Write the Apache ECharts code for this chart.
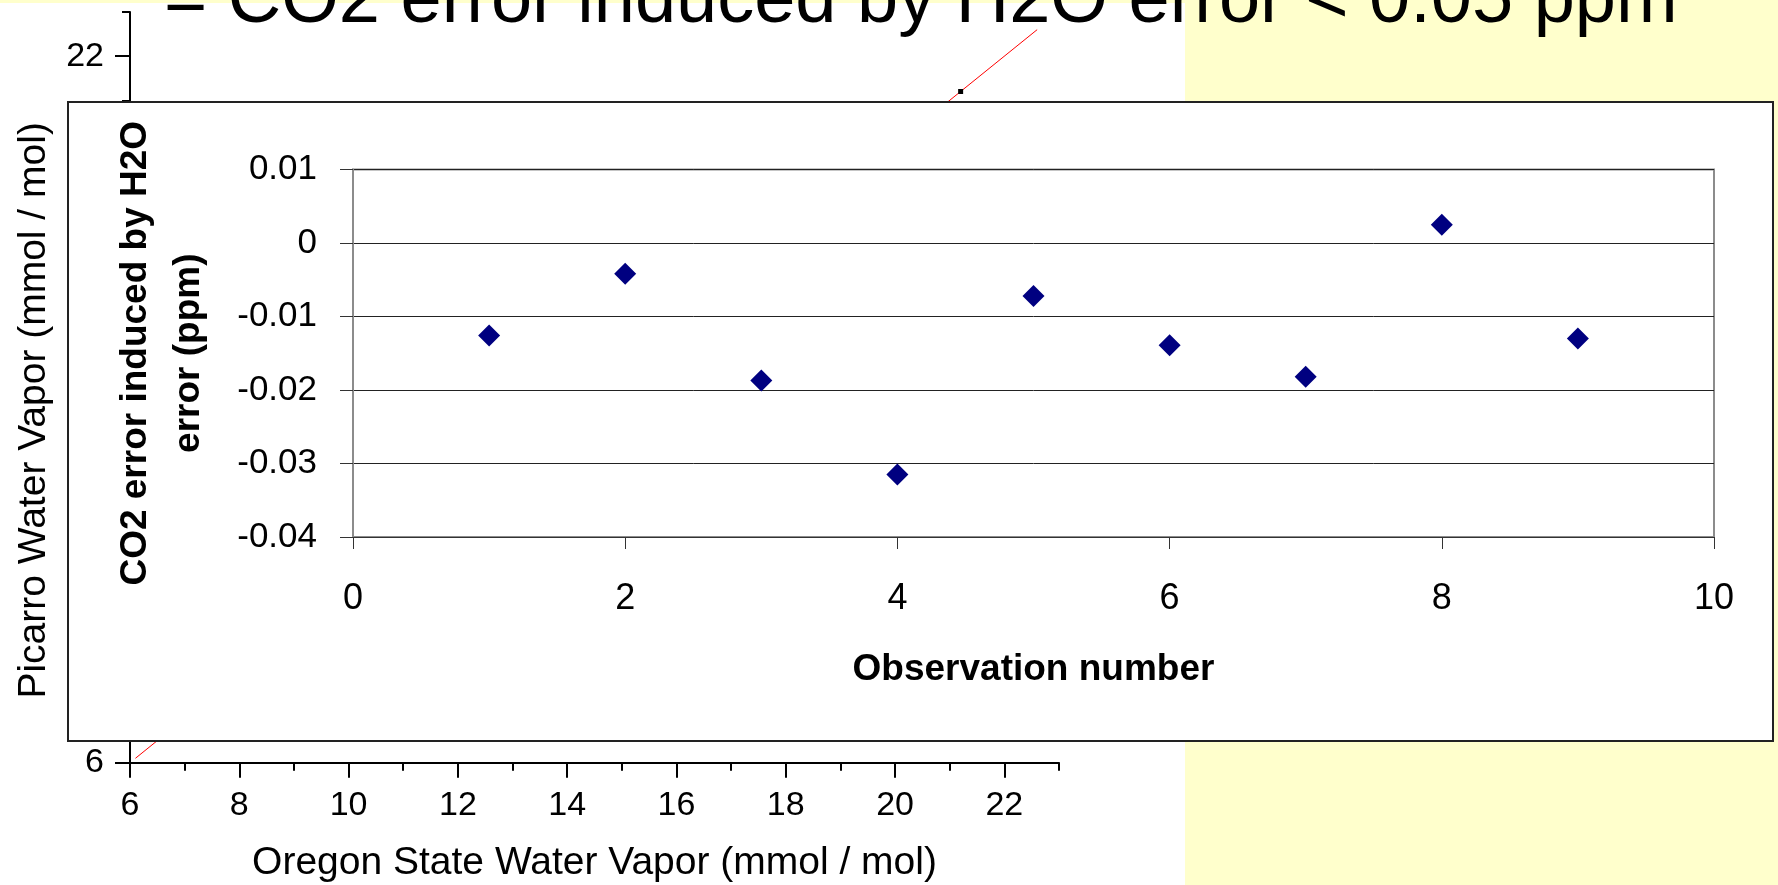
<!DOCTYPE html>
<html>
<head>
<meta charset="utf-8">
<script src="https://cdn.jsdelivr.net/npm/echarts@6/dist/echarts.min.js"></script>
<style>
html,body{margin:0;padding:0;background:#FFFFCC;}
#c{width:1778px;height:885px;}
</style>
</head>
<body>
<div id="c"></div>
<script>
// ---- background chart data (Picarro vs Oregon State water vapor) ----
var bgLineData = [[6.1, 6.1], [22.6, 22.6]];
var bgPoints = [[21.2, 21.2]];
var bgMajorTicks = [6, 8, 10, 12, 14, 16, 18, 20, 22];

// ---- foreground chart data (CO2 error per observation) ----
var observations = [1, 2, 3, 4, 5, 6, 7, 8, 9];
var co2Error = [-0.0126, -0.0042, -0.0187, -0.0315, -0.0072, -0.0139, -0.0182, 0.0025, -0.0130];

var titleText = '= CO2 error induced by H2O error < 0.05 ppm';
var FONT = '"Liberation Sans", Arial, sans-serif';

var chart = echarts.init(document.getElementById('c'));

var scatterData = observations.map(function (o, i) { return [o, co2Error[i]]; });

function bgXAxis(extra) {
  return Object.assign({
    type: 'value', gridIndex: 0, min: 6, max: 23, interval: 1, z: 3, position: 'bottom',
    axisLine: { show: true, onZero: false, lineStyle: { color: '#000', width: 2 } },
    axisTick: { show: true, length: 8, lineStyle: { color: '#000', width: 2 } },
    axisLabel: { show: true, customValues: bgMajorTicks, fontSize: 34, color: '#000', fontFamily: FONT, margin: 26 },
    splitLine: { show: false }
  }, extra);
}

var option = {
  backgroundColor: '#FFFFCC',
  animation: false,
  graphic: [
    { type: 'rect', z: 0, shape: { x: 0, y: 3, width: 1185, height: 882 }, style: { fill: '#FFFFFF' }, silent: true },
    { type: 'rect', z: 10, shape: { x: 68, y: 102, width: 1705, height: 639 }, style: { fill: '#FFFFFF', stroke: '#222', lineWidth: 2 }, silent: true },
    { type: 'text', z: 20, x: 164, y: 2, style: { text: titleText, fontSize: 74, fontFamily: FONT, fill: '#000', verticalAlign: 'middle', align: 'left' }, silent: true }
  ],
  grid: [
    { left: 130, top: 12, width: 929, height: 750.7, z: 3, show: false, outerBoundsMode: 'none', containLabel: false },
    { left: 353, top: 169.5, width: 1361, height: 367.5, z: 11, show: true, backgroundColor: '#FFFFFF', borderColor: '#8c8c8c', borderWidth: 2, outerBoundsMode: 'none', containLabel: false }
  ],
  xAxis: [
    bgXAxis({
      name: 'Oregon State Water Vapor (mmol / mol)', nameLocation: 'middle', nameGap: 81,
      nameTextStyle: { fontSize: 39, color: '#000', fontFamily: FONT }
    }),
    bgXAxis({
      axisLine: { show: false, onZero: false },
      axisTick: { show: true, customValues: bgMajorTicks, length: 15, lineStyle: { color: '#000', width: 2 } },
      axisLabel: { show: false }
    }),
    {
      type: 'value', gridIndex: 1, min: 0, max: 10, interval: 2, z: 12, position: 'bottom',
      name: 'Observation number', nameLocation: 'middle', nameGap: 114,
      nameTextStyle: { fontSize: 37, fontWeight: 'bold', color: '#000', fontFamily: FONT },
      axisLine: { show: true, onZero: false, lineStyle: { color: '#333', width: 1 } },
      axisTick: { show: true, length: 12, lineStyle: { color: '#333', width: 1 } },
      axisLabel: { fontSize: 36, color: '#000', fontFamily: FONT, margin: 44 },
      splitLine: { show: false }
    }
  ],
  yAxis: [
    {
      type: 'value', gridIndex: 0, min: 6, max: 23, interval: 1, z: 3, position: 'left',
      name: 'Picarro Water Vapor (mmol / mol)', nameLocation: 'middle', nameGap: 76, nameRotate: 90,
      nameTextStyle: { fontSize: 39, color: '#000', fontFamily: FONT, padding: [0, 46, 0, 0] },
      axisLine: { show: true, onZero: false, lineStyle: { color: '#000', width: 2 } },
      axisTick: { show: true, length: 8, lineStyle: { color: '#000', width: 2 } },
      axisLabel: { show: true, customValues: bgMajorTicks, fontSize: 34, color: '#000', fontFamily: FONT, margin: 26 },
      splitLine: { show: false }
    },
    {
      type: 'value', gridIndex: 0, min: 6, max: 23, interval: 1, z: 3, position: 'left',
      axisLine: { show: false, onZero: false },
      axisTick: { show: true, customValues: bgMajorTicks, length: 15, lineStyle: { color: '#000', width: 2 } },
      axisLabel: { show: false },
      splitLine: { show: false }
    },
    {
      type: 'value', gridIndex: 1, min: -0.04, max: 0.01, interval: 0.01, z: 12, position: 'left',
      name: 'CO2 error induced by H2O\nerror (ppm)', nameLocation: 'middle', nameGap: 138, nameRotate: 90,
      nameTextStyle: { fontSize: 37, fontWeight: 'bold', color: '#000', fontFamily: FONT, lineHeight: 53, align: 'center' },
      axisLine: { show: true, onZero: false, lineStyle: { color: '#8c8c8c', width: 2 } },
      axisTick: { show: true, length: 13, lineStyle: { color: '#333', width: 1 } },
      axisLabel: { fontSize: 35, color: '#000', fontFamily: FONT, margin: 36 },
      splitLine: { show: true, lineStyle: { color: '#222', width: 1 } }
    }
  ],
  series: [
    {
      type: 'line', xAxisIndex: 0, yAxisIndex: 0, z: 4, data: bgLineData,
      symbol: 'none', lineStyle: { color: '#FF0000', width: 1 }, silent: true
    },
    {
      type: 'scatter', xAxisIndex: 0, yAxisIndex: 0, z: 4, data: bgPoints,
      symbol: 'rect', symbolSize: 5, itemStyle: { color: '#000', opacity: 1 }, silent: true
    },
    {
      type: 'scatter', xAxisIndex: 2, yAxisIndex: 2, z: 13, data: scatterData,
      symbol: 'diamond', symbolSize: 22, itemStyle: { color: '#000080', opacity: 1 }
    }
  ]
};
chart.setOption(option);
</script>
</body>
</html>
